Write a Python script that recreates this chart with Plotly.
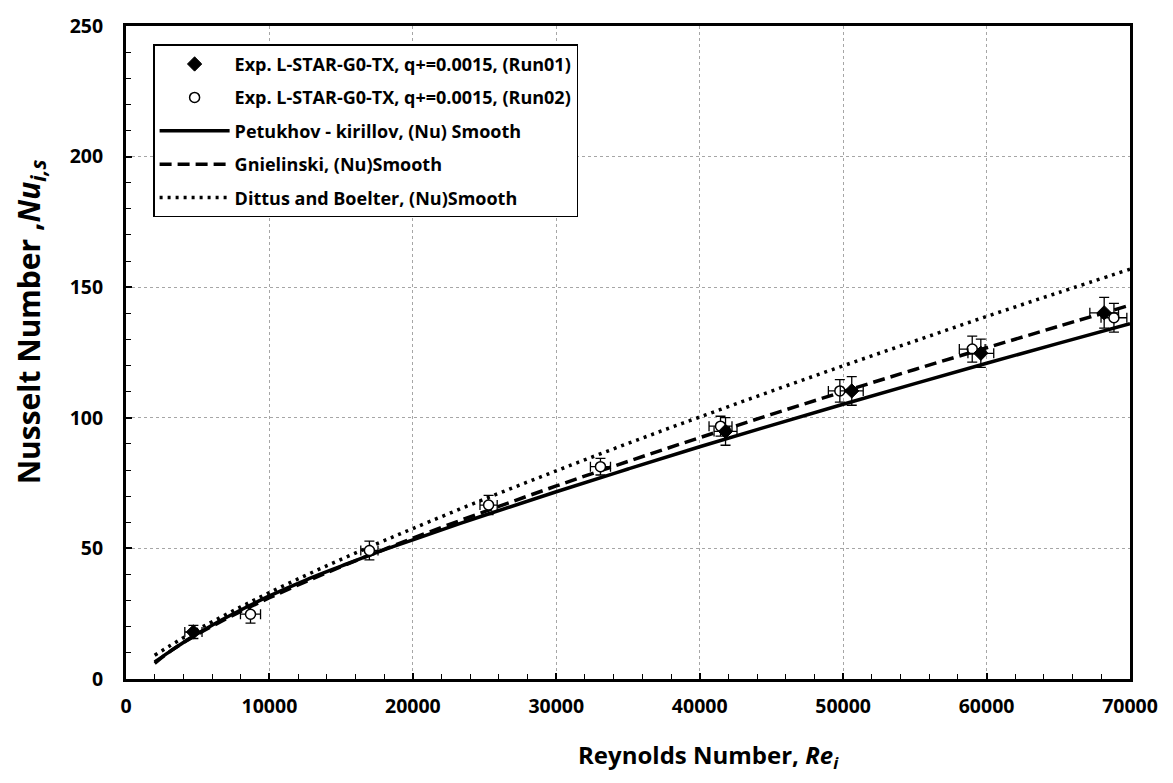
import plotly.graph_objects as go

# ---------------- data ----------------
re_run01 = [4700, 41800, 50600, 59600, 68200]
nu_run01 = [18.0, 94.8, 110.3, 124.7, 140.2]
nu_err_run01 = [2.5, 5.3, 5.5, 5.4, 5.9]
re_err_run01 = [600, 800, 800, 900, 1000]

re_run02 = [8680, 16970, 25280, 33080, 41450, 49770, 59000, 68880]
nu_run02 = [24.8, 49.2, 66.6, 81.3, 96.8, 110.3, 126.3, 138.3]
nu_err_run02 = [3.4, 3.6, 3.7, 3.2, 3.8, 4.3, 5.0, 5.5]
re_err_run02 = [700, 600, 600, 700, 800, 800, 900, 900]

re_curve = [2000, 3000, 4000, 5000, 6000, 8000, 10000, 12500, 15000, 17500,
            20000, 25000, 30000, 35000, 40000, 45000, 50000, 55000, 60000,
            65000, 70000]
nu_petukhov = [6.5, 10.3, 14.0, 17.4, 20.6, 26.4, 31.8, 37.8, 43.2, 48.5,
               53.3, 62.7, 71.7, 80.4, 88.9, 97.1, 105.2, 113.1, 120.9,
               128.5, 136.0]
nu_gnielinski = [6.0, 10.3, 13.9, 17.2, 20.2, 25.9, 31.1, 37.2, 43.0, 48.5,
                 53.9, 64.1, 73.9, 83.3, 92.4, 101.3, 110.0, 118.5, 126.8,
                 135.0, 143.1]
nu_dittus = [9.1, 12.5, 15.8, 19.0, 21.9, 27.6, 33.1, 39.6, 45.8, 51.8,
             57.6, 68.9, 79.7, 90.2, 100.3, 110.2, 119.9, 129.4, 138.8,
             147.9, 156.9]

x_ticks = [0, 10000, 20000, 30000, 40000, 50000, 60000, 70000]
y_ticks = [0, 50, 100, 150, 200, 250]

names = [
    "Exp. L-STAR-G0-TX, q+=0.0015, (Run01)",
    "Exp. L-STAR-G0-TX, q+=0.0015, (Run02)",
    "Petukhov - kirillov, (Nu) Smooth",
    "Gnielinski, (Nu)Smooth",
    "Dittus and Boelter, (Nu)Smooth",
]
x_title = "Reynolds Number, <i>Re<sub>i</sub></i>"
y_title = "Nusselt Number ,<i>Nu<sub>i,s</sub></i>"

FONT = "Open Sans"
W, H = 1173, 783
ML, MR, MT, MB = 126, 43, 18, 104


def b(s):
    return "<b>" + s + "</b>"


fig = go.Figure()

fig.add_trace(go.Scatter(
    x=re_curve, y=nu_petukhov, mode="lines", name=b(names[2]),
    line=dict(color="black", width=3.5, shape="spline"),
    legendgroup="c", legendrank=3))
fig.add_trace(go.Scatter(
    x=re_curve, y=nu_gnielinski, mode="lines", name=b(names[3]),
    line=dict(color="black", width=3.5, dash="12px,6px", shape="spline"),
    legendgroup="d", legendrank=4))
fig.add_trace(go.Scatter(
    x=re_curve, y=nu_dittus, mode="lines", name=b(names[4]),
    line=dict(color="black", width=3.5, dash="3px,5px", shape="spline"),
    legendgroup="e", legendrank=5))

fig.add_trace(go.Scatter(
    x=re_run02, y=nu_run02, mode="markers", name=b(names[1]),
    marker=dict(symbol="circle", size=10, color="white",
                line=dict(color="black", width=1.5)),
    error_y=dict(type="data", array=nu_err_run02, color="black",
                 thickness=1.3, width=5),
    error_x=dict(type="data", array=re_err_run02, color="black",
                 thickness=1.3, width=5),
    legendgroup="b", legendrank=2))
fig.add_trace(go.Scatter(
    x=re_run01, y=nu_run01, mode="markers", name=b(names[0]),
    marker=dict(symbol="diamond", size=11, color="black",
                line=dict(color="black", width=1)),
    error_y=dict(type="data", array=nu_err_run01, color="black",
                 thickness=1.3, width=5),
    error_x=dict(type="data", array=re_err_run01, color="black",
                 thickness=1.3, width=5),
    legendgroup="a", legendrank=1))

pw = W - ML - MR
ph = H - MT - MB


def px_to_paper_x(px):
    return (px - ML) / pw


def px_to_paper_y(py):
    return 1 - (py - MT) / ph


fig.update_layout(
    width=W, height=H,
    margin=dict(l=ML, r=MR, t=MT, b=MB),
    paper_bgcolor="white", plot_bgcolor="white",
    font=dict(family=FONT, color="black", size=18),
    showlegend=True,
    legend=dict(
        x=0.027, y=0.972, xanchor="left", yanchor="top",
        bgcolor="white", bordercolor="black", borderwidth=1.5,
        font=dict(family=FONT, size=18, color="black"),
        traceorder="grouped", tracegroupgap=7,
        itemwidth=70,
    ),
    xaxis=dict(
        range=[0, 70000], tickvals=x_ticks,
        ticktext=[b(str(v)) for v in x_ticks],
        showgrid=True, gridcolor="#a6a6a6", griddash="dot", gridwidth=1,
        showline=True, linecolor="black", linewidth=3, mirror=True,
        ticks="inside", ticklen=6, tickwidth=1.5, tickcolor="black",
        minor=dict(dtick=2000, ticks="inside", ticklen=5, tickwidth=1.2,
                   tickcolor="black", showgrid=False),
        tickfont=dict(family=FONT, size=19.5),
        ticklabelstandoff=8,
        zeroline=False,
    ),
    yaxis=dict(
        range=[0, 250], tickvals=y_ticks,
        ticktext=[b(str(v)) for v in y_ticks],
        showgrid=True, gridcolor="#a6a6a6", griddash="dot", gridwidth=1,
        showline=True, linecolor="black", linewidth=3, mirror=True,
        ticks="inside", ticklen=6, tickwidth=1.5, tickcolor="black",
        minor=dict(dtick=10, ticks="inside", ticklen=5, tickwidth=1.2,
                   tickcolor="black", showgrid=False),
        tickfont=dict(family=FONT, size=19.5),
        ticklabelstandoff=16,
        zeroline=False,
    ),
    annotations=[
        dict(text=b(x_title), xref="paper", yref="paper",
             x=px_to_paper_x(708), y=px_to_paper_y(757),
             xanchor="center", yanchor="middle", showarrow=False,
             font=dict(family=FONT, size=24, color="black")),
        dict(text=b(y_title), xref="paper", yref="paper",
             x=px_to_paper_x(30), y=px_to_paper_y(318),
             xanchor="center", yanchor="middle", showarrow=False,
             textangle=-90,
             font=dict(family=FONT, size=30, color="black")),
    ],
)

fig.write_html("out.html")
